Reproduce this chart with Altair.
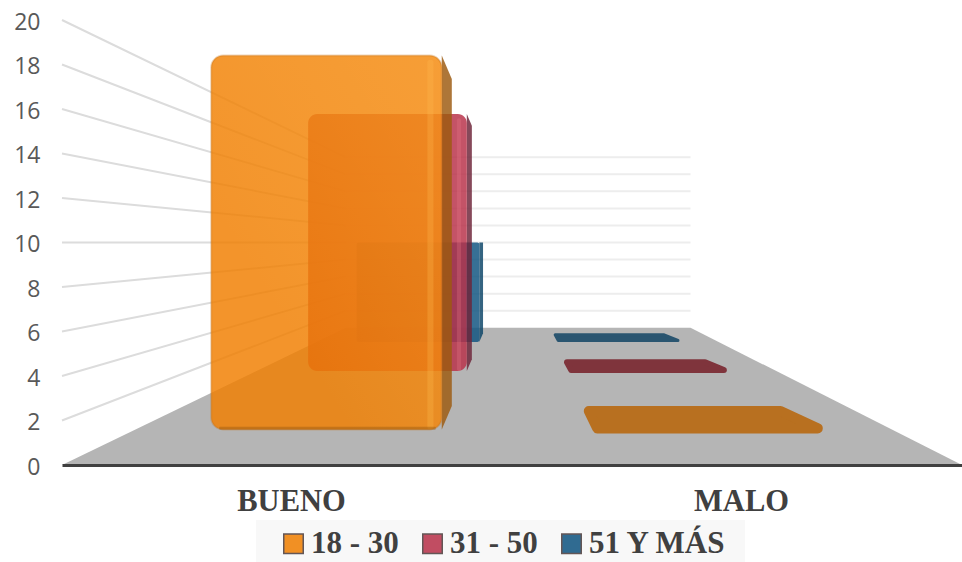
import altair as alt
import pandas as pd

# Survey counts per rating and age group
categories = ["BUENO", "MALO"]
series = ["18 - 30", "31 - 50", "51 Y MÁS"]
bueno_values = [20, 20, 10]
malo_values = [0, 0, 0]
y_ticks = [0, 2, 4, 6, 8, 10, 12, 14, 16, 18, 20]

face_colors = ["#F07E00", "#B83048", "#0E5380"]
side_colors = ["#9C5A10", "#6E2438", "#0C4468"]
edge_colors = ["#C0701A", "#8E2C44", "#0E4468"]
glow_colors = ["#FFC050", "#E87A88", "#5A98C0"]
floor_bar_colors = ["#B87020", "#7F343C", "#2A5570"]

# Perspective camera: k is the shrink factor along the depth axis (1 = front plane)
VANISH_X, VANISH_V = 522.0, 10.0
BACK_K = 0.383
PX_PER_UNIT = 22.25
depth_bands = [(0.84, 0.735), (0.578, 0.525), (0.447, 0.408)]
slot_left, slot_right = 0.15, 0.155
slot_centres = [0.25, 0.75]


def project(t, k, v):
    """Map slot position t, depth k and value v to x/y data coordinates."""
    x_front = 62 + 900 * t
    return VANISH_X + (x_front - VANISH_X) * k, VANISH_V + (v - VANISH_V) * k


x_scale = alt.Scale(domain=[62, 962], range=[0, 900], nice=False, zero=False)
y_scale = alt.Scale(domain=[0, 20], range=[445, 0], nice=False, zero=False)
x_axis = alt.Axis(
    title=None,
    values=[project(c, 1, 0)[0] for c in slot_centres],
    labelExpr=f"datum.value < 500 ? '{categories[0]}' : '{categories[1]}'",
    labelFont="Liberation Serif",
    labelFontWeight="bold",
    labelFontSize=30.5,
    labelColor="#404040",
    labelPadding=21,
    labelOffset=4,
    ticks=False,
    grid=False,
    domainColor="#404040",
    domainWidth=3,
    zindex=1,
)
y_axis = alt.Axis(
    title=None,
    values=y_ticks,
    labelFont="Open Sans",
    labelFontSize=23,
    labelColor="#595959",
    labelPadding=22,
    labelOffset=2,
    ticks=False,
    grid=False,
    domain=False,
)
X = alt.X("x:Q", scale=x_scale, axis=x_axis)
Y = alt.Y("y:Q", scale=y_scale, axis=y_axis)
X2 = alt.X2("x2:Q")
Y2 = alt.Y2("y2:Q")

layers = []

# Floor trapezoid
fl, fr = project(0, BACK_K, 0), project(1, BACK_K, 0)
floor = pd.DataFrame(
    [
        {"y": 0, "x": 62, "x2": 962},
        {"y": fl[1], "x": fl[0], "x2": fr[0]},
    ]
)
layers.append(
    alt.Chart(floor)
    .mark_area(orient="horizontal", color="#B5B5B5")
    .encode(y=Y, x=X, x2=X2)
)

# Gridlines on the left and back walls
left_wall, back_wall = [], []
for v in y_ticks[1:]:
    a = project(0, 1, v)
    b = project(0, BACK_K, v)
    c = project(1, BACK_K, v)
    left_wall.append({"x": a[0], "y": a[1], "x2": b[0], "y2": b[1]})
    back_wall.append({"x": b[0], "y": b[1], "x2": c[0], "y2": c[1]})
layers.append(
    alt.Chart(pd.DataFrame(back_wall))
    .mark_rule(color="#EDEDED", strokeWidth=2)
    .encode(x=X, x2=X2, y=Y, y2=Y2)
)
layers.append(
    alt.Chart(pd.DataFrame(left_wall))
    .mark_rule(color="#DCDCDC", strokeWidth=2)
    .encode(x=X, x2=X2, y=Y, y2=Y2)
)

# Panel behind the legend
panel = pd.DataFrame([{"x": 256, "x2": 745, "y": -2.47, "y2": -4.36}])
layers.append(
    alt.Chart(panel).mark_rect(color="#F8F8F8").encode(x=X, x2=X2, y=Y, y2=Y2)
)

color_scale = alt.Scale(domain=series, range=face_colors)
legend = alt.Legend(
    title=None,
    orient="none",
    legendX=212,
    legendY=504,
    direction="horizontal",
    padding=4,
    symbolType="square",
    symbolSize=380,
    symbolOpacity=0.85,
    symbolStrokeWidth=1.5,
    symbolStrokeColor="#4A3A3A",
    labelFont="Liberation Serif",
    labelFontWeight="bold",
    labelFontSize=31,
    labelColor="#404040",
    labelOffset=2,
    labelLimit=200,
    columnPadding=18,
)

rows = {"BUENO": bueno_values, "MALO": malo_values}

# Flat footprints for the zero-valued group, farthest first; a thick round-joined
# stroke gives the rounded outline
foot_strokes = [10, 6, 3]
foot_grow = [4, 2, 0]
foot_shift = [3, 0, -1]
for i in reversed(range(len(series))):
    front_k, back_k = depth_bands[i]
    c = slot_centres[1]
    s = foot_strokes[i]
    pts = []
    for k, inset, grow in ((front_k, s / 2, foot_grow[i]), (back_k, -s / 2, 0)):
        a = project(c - slot_left, k, rows["MALO"][i])
        b = project(c + slot_right, k, rows["MALO"][i])
        pts.append(
            {
                "y": a[1] + (inset - grow) / PX_PER_UNIT,
                "x": a[0] + s / 2 + foot_shift[i],
                "x2": b[0] - s / 2 + foot_shift[i],
            }
        )
    layers.append(
        alt.Chart(pd.DataFrame(pts))
        .mark_area(
            orient="horizontal",
            color=floor_bar_colors[i],
            stroke=floor_bar_colors[i],
            strokeWidth=s,
            strokeJoin="round",
        )
        .encode(y=Y, x=X, x2=X2)
    )

# Sheen over the front face: brighter towards the top right, fading out at bottom left
sheen = alt.Gradient(
    gradient="linear",
    x1=0,
    y1=1,
    x2=1,
    y2=0,
    stops=[
        alt.GradientStop(color="rgba(255,190,90,0)", offset=0.3),
        alt.GradientStop(color="rgba(255,180,80,0.3)", offset=1),
    ],
)

# Columns of the first group, painted back to front: side wall, then front face
radii = [12, 9, 2]
for i in reversed(range(len(series))):
    front_k, back_k = depth_bands[i]
    v = rows["BUENO"][i]
    c = slot_centres[0]
    t0, t1 = c - slot_left, c + slot_right
    side_rows = []
    for k in (front_k, back_k):
        top = project(t1, k, v)
        bottom = project(t1, k, 0)
        side_rows.append({"x": top[0], "y": top[1], "y2": bottom[1]})
    layers.append(
        alt.Chart(pd.DataFrame(side_rows))
        .mark_area(color=side_colors[i], opacity=0.83)
        .encode(x=X, y=Y, y2=Y2)
    )
    lo, hi = project(t0, front_k, 0), project(t1, front_k, v)
    face = pd.DataFrame(
        [{"series": series[i], "x": lo[0], "x2": hi[0], "y": lo[1], "y2": hi[1]}]
    )
    layers.append(
        alt.Chart(face)
        .mark_rect(opacity=0.83, cornerRadius=radii[i])
        .encode(
            x=X,
            x2=X2,
            y=Y,
            y2=Y2,
            color=alt.Color("series:N", scale=color_scale, legend=legend),
        )
    )
    # Lit vertical edge on the two taller columns
    if i < 2:
        strip_l = project(t1 - 0.019, front_k, v)[0]
        strip_r = project(t1 - 0.011, front_k, v)[0]
        strip = pd.DataFrame(
            [{"x": strip_l, "x2": strip_r, "y": lo[1], "y2": hi[1] - 0.2}]
        )
        layers.append(
            alt.Chart(strip)
            .mark_rect(color=glow_colors[i], opacity=0.28, cornerRadius=2)
            .encode(x=X, x2=X2, y=Y, y2=Y2)
        )
    # Bevel on the front column
    if i == 0:
        layers.append(
            alt.Chart(face)
            .mark_rect(fill=sheen, cornerRadius=radii[i])
            .encode(x=X, x2=X2, y=Y, y2=Y2)
        )
        layers.append(
            alt.Chart(face)
            .mark_rect(
                fillOpacity=0,
                stroke=edge_colors[i],
                strokeOpacity=0.3,
                strokeWidth=2,
                cornerRadius=radii[i],
            )
            .encode(x=X, x2=X2, y=Y, y2=Y2)
        )
        base = pd.DataFrame(
            [{"x": lo[0] + 8, "x2": hi[0] - 6, "y": lo[1] - 0.02, "y2": lo[1] + 0.12}]
        )
        layers.append(
            alt.Chart(base)
            .mark_rect(color="#9C5A10", opacity=0.45, cornerRadius=1)
            .encode(x=X, x2=X2, y=Y, y2=Y2)
        )

chart = (
    alt.layer(*layers)
    .properties(
        width=900,
        height=445,
        background="white",
        autosize=alt.AutoSizeParams(type="none"),
        padding={"left": 62, "top": 20, "right": 0, "bottom": 97},
    )
    .configure_view(strokeWidth=0, stroke=None)
)

chart.save("out.html", embed_options={"renderer": "svg", "actions": False})
